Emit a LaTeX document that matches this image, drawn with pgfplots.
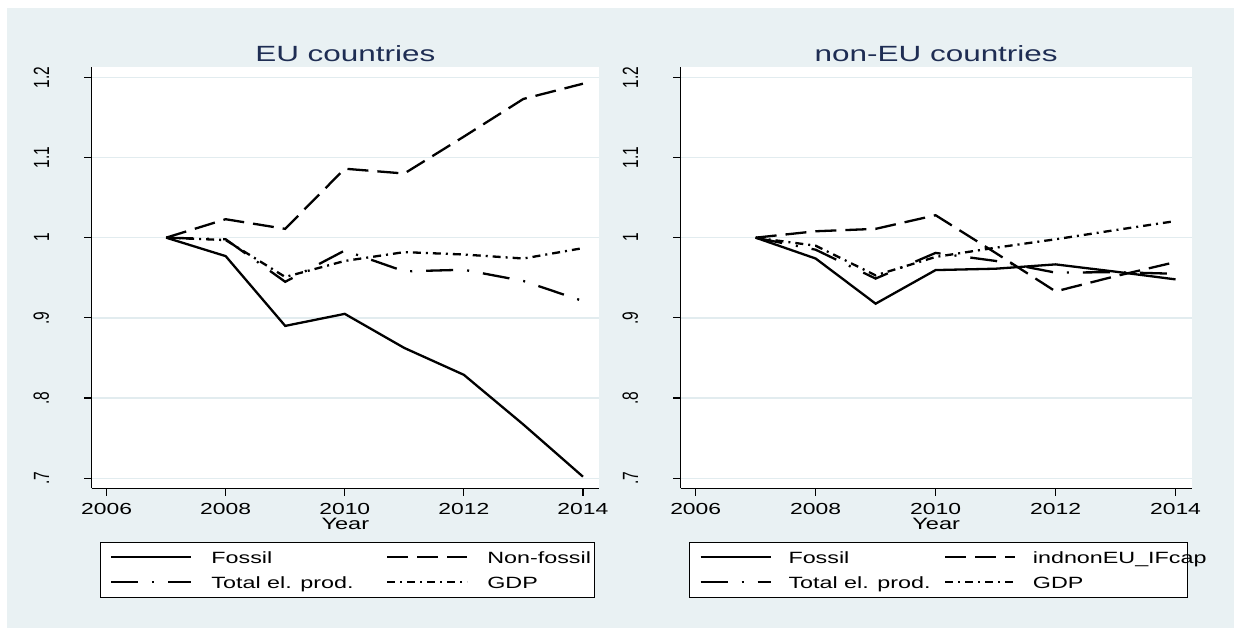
\documentclass[border=0pt]{standalone}
\usepackage{fontspec}
\setmainfont{Liberation Sans}[FakeStretch=1.43]
\newfontfamily\ylabfont{Liberation Sans}
\usepackage{graphicx}
\usepackage{pgfplots}
\pgfplotsset{compat=1.18}
\definecolor{bgc}{RGB}{233,241,243}
\definecolor{gridc}{RGB}{226,236,239}
\definecolor{titc}{RGB}{30,45,83}

\pgfplotstableread{
year fossil nonfossil total gdp
2007 1.000 1.000 1.000 1.000
2008 0.977 1.023 0.998 0.997
2009 0.890 1.011 0.945 0.951
2010 0.905 1.086 0.984 0.971
2011 0.8625 1.080 0.958 0.982
2012 0.829 1.126 0.960 0.979
2013 0.767 1.173 0.946 0.974
2014 0.702 1.192 0.921 0.987
}\eudata

\pgfplotstableread{
year fossil ifcap total gdp
2007 1.000 1.000 1.000 1.000
2008 0.974 1.008 0.985 0.990
2009 0.9177 1.011 0.949 0.953
2010 0.9596 1.028 0.981 0.976
2011 0.9613 0.981 0.971 0.9875
2012 0.9667 0.933 0.9564 0.998
2013 0.9576 0.952 0.957 1.0095
2014 0.948 0.9696 0.955 1.0207
}\noneudata

\pgfplotsset{
  stata/.style={
    scale only axis,
    height=421.6pt,
    xmin=2005.75, xmax=2014.27,
    ymin=0.6875, ymax=1.2132,
    axis x line*=bottom, axis y line*=left,
    axis line style={-, line width=1.2pt, black},
    axis background/.style={fill=white},
    tick align=outside,
    major tick length=7.5pt,
    tick style={black, line width=1.2pt},
    xtick={2006,2008,2010,2012,2014},
    xticklabels={2006,2008,2010,2012,2014},
    ytick={0.7,0.8,0.9,1,1.1,1.2},
    yticklabels={\scalebox{1}[1.42]{.7},\scalebox{1}[1.42]{.8},\scalebox{1}[1.42]{.9},\scalebox{1}[1.42]{1},\scalebox{1}[1.42]{1.1},\scalebox{1}[1.42]{1.2}},
    ymajorgrids,
    grid style={gridc, line width=1.5pt},
    x tick label style={font=\fontsize{16}{16}\selectfont, anchor=north, inner sep=0pt},
    xticklabel shift=7pt,
    y tick label style={font=\ylabfont\fontsize{15.5}{16}\selectfont, rotate=90, anchor=south, inner sep=0pt},
    yticklabel shift=35pt,
    title style={font=\fontsize{22}{22}\selectfont, color=titc, at={(axis description cs:0.5,1)}, anchor=base, yshift=-0.5pt, inner sep=0pt},
    xlabel style={font=\fontsize{16.5}{16.5}\selectfont, at={(axis description cs:0.5,0)}, anchor=base, yshift=-41.5pt, inner sep=0pt},
    xlabel={Year},
    every axis plot/.append style={line width=2.3pt, black, no marks},
    legend columns=2,
    legend cell align=left,
    legend style={anchor=north west, draw=black, line width=1.1pt, fill=white,
      inner xsep=10pt, inner ysep=8.4pt, row sep=11.8pt, column sep=0pt,
      nodes={inner sep=0pt, text height=13.2pt, text depth=0pt, font=\fontsize{16.3}{16.3}\selectfont}},
  },
  sol/.style={solid},
  dsh/.style={dash pattern=on 21pt off 9pt},
  ldd/.style={dash pattern=on 27pt off 14pt on 2pt off 14pt},
  sdd/.style={dash pattern=on 8pt off 5pt on 2pt off 5pt},
}

\begin{document}
\begin{tikzpicture}
\useasboundingbox (0,0) rectangle (1234pt,628pt);
\fill[white] (0,0) rectangle (1234pt,628pt);
\fill[bgc] (7pt,0pt) rectangle (1234pt,620pt);

\begin{axis}[stata, at={(91.7pt,139.7pt)}, anchor=south west, width=507.3pt,
  title={EU countries},
  legend image code/.code={\draw[#1, line width=2.4pt] (0pt,0.2pt) -- (80pt,0.2pt);},
  legend style={at={(axis description cs:0.0158,-0.1267)}},
  legend entries={\makebox[193.5pt][l]{\hspace{18.8pt}Fossil},\makebox[115.5pt][l]{\hspace{18.8pt}Non-fossil},\makebox[193.5pt][l]{\hspace{18.8pt}Total el. prod.},\makebox[115.5pt][l]{\hspace{18.8pt}GDP}},
]
\addplot[sol] table[x=year,y=fossil] {\eudata};
\addplot[dsh] table[x=year,y=nonfossil] {\eudata};
\addplot[ldd] table[x=year,y=total] {\eudata};
\addplot[sdd] table[x=year,y=gdp] {\eudata};
\end{axis}

\begin{axis}[stata, at={(680.7pt,139.7pt)}, anchor=south west, width=511pt,
  title={non-EU countries},
  legend image code/.code={\draw[#1, line width=2.4pt] (0pt,0.2pt) -- (70pt,0.2pt);},
  legend style={at={(axis description cs:0.0162,-0.1267)}},
  legend entries={\makebox[172pt][l]{\hspace{16.6pt}Fossil},\makebox[161.6pt][l]{\hspace{16.6pt}indnonEU\_IFcap},\makebox[172pt][l]{\hspace{16.6pt}Total el. prod.},\makebox[161.6pt][l]{\hspace{16.6pt}GDP}},
]
\addplot[sol] table[x=year,y=fossil] {\noneudata};
\addplot[dsh] table[x=year,y=ifcap] {\noneudata};
\addplot[ldd] table[x=year,y=total] {\noneudata};
\addplot[sdd] table[x=year,y=gdp] {\noneudata};
\end{axis}
\end{tikzpicture}
\end{document}
